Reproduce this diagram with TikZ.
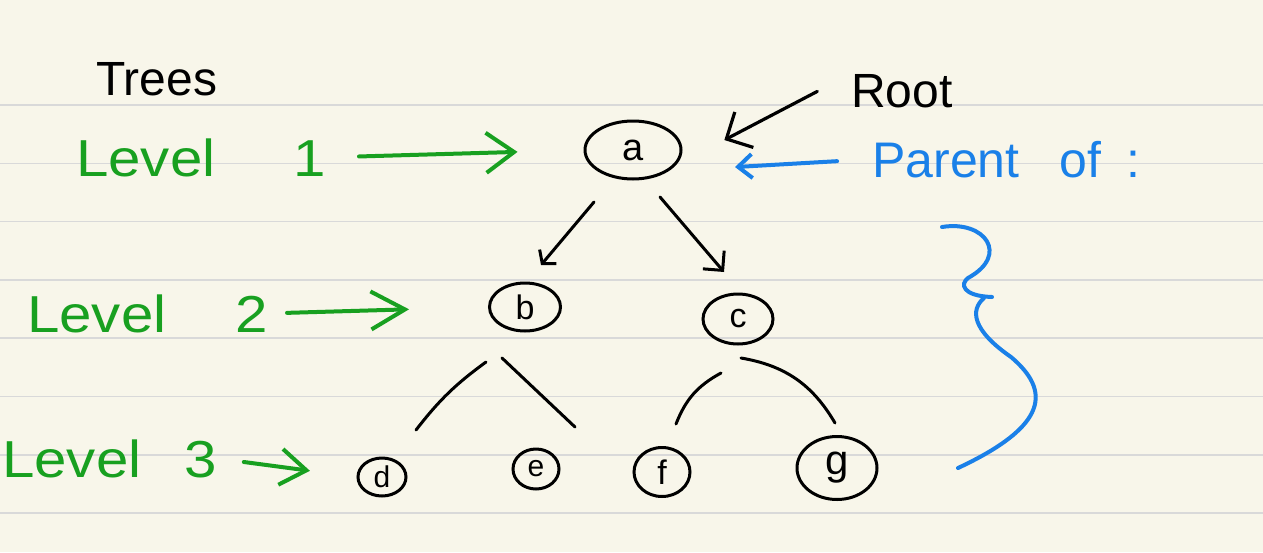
\documentclass[tikz,border=0pt]{standalone}
\usepackage{fontspec}
\setmainfont{Liberation Sans}
\newfontfamily\widehand{Liberation Sans}[FakeStretch=1.12]
\usetikzlibrary{arrows.meta, shapes.geometric}

\definecolor{paper}{HTML}{F8F6EA}
\definecolor{ruling}{HTML}{D9D9D9}
\definecolor{levelgreen}{HTML}{18A020}
\definecolor{noteblue}{HTML}{1A80E8}

\begin{document}
\begin{tikzpicture}[x=1pt, y=1pt]
\fill[paper] (0,0) rectangle (1263,-552);
\useasboundingbox (0,0) rectangle (1263,-552);
\foreach \k in {0,...,7}
    \draw[ruling, line width=1.6pt] (0,-105-58.3*\k) -- (1263,-105-58.3*\k);

\begin{scope}[every node/.style={ellipse, draw, line width=3pt, inner sep=0pt, font=\fontsize{34}{34}\selectfont}]
    \node[minimum width=96pt, minimum height=58pt, font=\fontsize{38}{38}\selectfont] (a) at (633,-150) {a};
    \node[minimum width=71pt, minimum height=48pt] (b) at (525,-307) {b};
    \node[minimum width=70pt, minimum height=50pt] (c) at (738,-319) {c};
    \node[minimum width=48pt, minimum height=38pt, font=\fontsize{30}{30}\selectfont] (d) at (382,-477) {d};
    \node[minimum width=46pt, minimum height=40pt, font=\fontsize{30}{30}\selectfont] (e) at (536,-469) {e};
    \node[minimum width=56pt, minimum height=49pt] (f) at (662,-472) {f};
    \node[minimum width=80pt, minimum height=63pt, font=\fontsize{42}{42}\selectfont] (g) at (837,-468) {g};
\end{scope}

\begin{scope}[every node/.style={inner sep=0pt, anchor=base west}]
    \node[font=\fontsize{48}{48}\selectfont] (trees) at (96,-95) {Trees};
    \node[font=\fontsize{48}{48}\selectfont] (root) at (851,-107) {Root};
    \node[levelgreen, font=\widehand\fontsize{52}{52}\selectfont] (lv1) at (76,-176) {Level\hspace{78pt}1};
    \node[levelgreen, font=\widehand\fontsize{52}{52}\selectfont] (lv2) at (27,-332) {Level\hspace{69pt}2};
    \node[levelgreen, font=\widehand\fontsize{52}{52}\selectfont] (lv3) at (2,-477) {Level\hspace{43pt}3};
    \node[noteblue, font=\fontsize{50}{50}\selectfont] (parent) at (872,-177) {Parent\hspace{40pt}of\hspace{25pt}:};
\end{scope}

\begin{scope}[every edge/.style={draw, line width=4pt, line cap=round}]
    \path (lv1.east) edge[levelgreen, shorten <=33pt, shorten >=66pt, -{Straight Barb[length=28pt, width=40pt]}] (a.west);
    \path (lv2.east) edge[levelgreen, shorten <=19pt, shorten >=79pt, -{Straight Barb[length=34pt, width=38pt]}] (b.west);
    \path (lv3.east) edge[levelgreen, shorten <=27pt, shorten >=47pt, -{Straight Barb[length=26pt, width=36pt]}] (d.west);
    \path (root.north west) edge[black, line width=3.2pt, shorten <=38pt, shorten >=55pt, -{Straight Barb[length=20pt, width=40pt]}] (a.-20);
    \path (parent.west) edge[noteblue, shorten <=35pt, shorten >=66pt, -{Straight Barb[length=14pt, width=24pt]}] (a.-30);
\end{scope}

\begin{scope}[every edge/.style={draw, line width=3pt, line cap=round}]
    \path ([shift={(-39,-52)}]a.center) edge[-{Straight Barb[length=9pt, width=22pt]}] ([shift={(16,42)}]b.center);
    \path ([shift={(27,-47)}]a.center) edge[-{Straight Barb[length=14pt, width=28pt]}] ([shift={(-14,47)}]c.center);
    \path ([shift={(-39,-55)}]b.center) edge[bend right=8] ([shift={(34,47)}]d.center);
    \path ([shift={(-23,-51)}]b.center) edge ([shift={(39,42)}]e.center);
    \path ([shift={(-17,-54)}]c.center) edge[bend right=20] ([shift={(14,48)}]f.center);
    \path ([shift={(3,-39)}]c.center) edge[bend left=25] ([shift={(-2,45)}]g.center);
\end{scope}

\draw[noteblue, line width=4pt, line cap=round]
    (942,-227) .. controls (985,-220) and (1010,-255) .. (968,-278)
    .. controls (960,-284) and (962,-296) .. (992,-297)
    (984,-298) .. controls (970,-310) and (972,-330) .. (1011,-357)
    .. controls (1050,-390) and (1050,-425) .. (958,-468);
\end{tikzpicture}
\end{document}
